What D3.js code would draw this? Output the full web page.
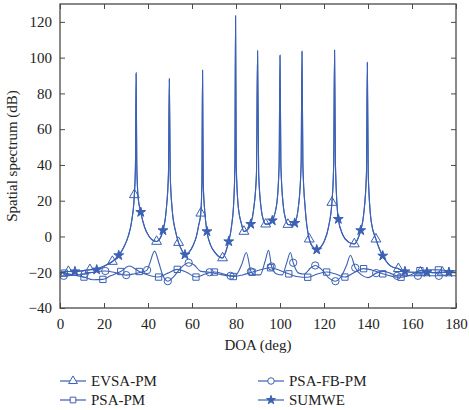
<!DOCTYPE html>
<html>
<head>
<meta charset="utf-8">
<script src="https://cdn.jsdelivr.net/npm/d3@7"></script>
<style>
body { margin: 0; background: #fff; }
text { font-family: "Liberation Serif", "Times New Roman", serif; fill: #222; }
</style>
</head>
<body>
<svg id="chart" width="469" height="410"></svg>
<script>
// axis ticks
var xTicks = [0, 20, 40, 60, 80, 100, 120, 140, 160, 180]
var yTicks = [-40, -20, 0, 20, 40, 60, 80, 100, 120]

// EVSA-PM: curve points and triangle markers [DOA, dB]
var evsaCurve = [[0,-20],[8,-19.5],[18,-17.5],[21,-16],[26.7,-10.6],[29,-6],[31,0],[32.5,8],[34.3,40],[34.6,91.6],[34.9,40],[35.5,22],[36.7,13.6],[38.5,5],[40.5,0],[42,-2],[46,0],[46.8,3.4],[48.3,15],[49.3,35],[49.7,88.3],[50.1,35],[51,15],[52.5,3],[55.5,-8],[56.8,-10.2],[58.5,-9],[60.5,-5],[62,0],[63,6],[64.5,30],[64.8,93.1],[65.1,30],[65.8,14],[66.8,2.8],[68.5,-5],[70.5,-9],[72.5,-11.5],[75.5,-8],[76.7,-2.8],[78,6],[79,20],[79.5,40],[79.8,123.5],[80.1,40],[81,17],[82.5,7],[85,3.5],[86.7,6.9],[88,15],[89.3,35],[89.8,103.9],[90.3,35],[91.5,15],[92.5,9],[95,7],[96.5,8.9],[98.5,18],[99.6,40],[100,101.5],[100.4,40],[101.5,17],[102.5,10],[105,6.5],[106.7,7.5],[108.5,18],[109.6,40],[110,103.7],[110.4,40],[111.5,15],[115,-6],[116.7,-7.4],[118.5,-6],[120,-3],[122,5],[124.4,40],[124.8,104.3],[125.2,40],[126.5,9.7],[128.5,1],[131,-3],[135.5,-1],[136.7,3.4],[138,12],[139.3,35],[139.7,97.4],[140.1,35],[141.5,8],[145.2,-7],[146.7,-10.8],[149,-15],[151,-17],[156.8,-19.6],[160,-20],[166.8,-20],[170,-20.2],[176.8,-20],[180,-20]]
var evsaMarks = [[3.8,-19.6],[13.6,-18.6],[23.8,-14],[33.8,23.3],[43.9,-2.8],[53.9,-3.4],[64,13],[73.9,-12],[83.6,2.8],[93.5,6.9],[103.6,6.7],[113.3,-1.5],[123.6,19],[133.8,-4.2],[143.6,-1.5],[153.8,-18],[163.8,-20],[173.8,-20]]

// SUMWE: curve points and star markers
var sumweCurve = [[0,-20],[3.8,-19.6],[10,-19.2],[13.6,-18.6],[21,-16],[23.8,-14],[29,-6],[31,0],[32.5,8],[33.8,23.3],[34.3,40],[34.6,91],[34.9,40],[35.5,22],[38.5,5],[40.5,0],[42,-2],[43.9,-2.8],[48.3,15],[49.3,35],[49.7,87.8],[50.1,35],[51,15],[52.5,3],[53.9,-3.4],[55.5,-8],[58.5,-9],[60.5,-5],[62,0],[63,6],[64,13],[64.5,30],[64.8,92.5],[65.1,30],[65.8,14],[68.5,-5],[70.5,-9],[72.5,-11.5],[73.9,-12],[75.5,-8],[78,6],[79,20],[79.5,40],[79.8,123],[80.1,40],[81,17],[82.5,7],[83.6,2.8],[85,3.5],[88,15],[89.3,35],[89.8,103.4],[90.3,35],[91.5,15],[92.5,9],[93.5,6.9],[95,7],[98.5,18],[99.6,40],[100,101],[100.4,40],[101.5,17],[102.5,10],[103.6,6.7],[105,6.5],[108.5,18],[109.6,40],[110,103.2],[110.4,40],[111.5,15],[113.3,-1.5],[115,-6],[118.5,-6],[120,-3],[122,5],[123.6,19],[124.4,40],[124.8,103.8],[125.2,40],[128.5,1],[131,-3],[133.8,-4.2],[135.5,-1],[138,12],[139.3,35],[139.7,97],[140.1,35],[141.5,8],[143.6,-1.5],[145.2,-7],[149,-15],[151,-17],[153.8,-18],[160,-20],[163.8,-20],[170,-20.2],[173.8,-20],[180,-20]]
var sumweMarks = [[6.8,-19.6],[16.7,-18.6],[26.7,-10.6],[36.7,13.6],[46.8,3.4],[56.8,-10.2],[66.8,2.8],[76.7,-2.8],[86.7,6.9],[96.5,8.9],[106.7,7.5],[116.7,-7.4],[126.5,9.7],[136.7,3.4],[146.7,-10.8],[156.8,-19.6],[166.8,-20],[176.8,-20]]

// PSA-FB-PM: curve points and circle markers
var fbCurve = [[0,-22.5],[5,-21.8],[15,-20],[25,-20.2],[34,-20.8],[37,-20],[40.8,-15],[43,-8.2],[45,-15],[46.5,-21],[52,-22],[55,-17.5],[61,-16],[64,-19.5],[72,-21],[80,-21.5],[82.5,-16],[84.7,-9],[88.5,-21.5],[91,-21.5],[93.2,-14],[94.8,-7.8],[98.5,-21],[101,-21.5],[103.1,-14.5],[104.7,-9],[108.5,-20.5],[111,-21],[114,-17.5],[119,-18.5],[122,-23],[128,-22],[130.3,-16],[132,-10.5],[137,-21.5],[140,-23],[147,-19.5],[150,-20.5],[158,-22],[168,-22],[176,-22],[180,-22]]
var fbMarks = [[1.7,-22],[11.2,-21],[20.6,-19.3],[30.1,-21.6],[39.6,-18.8],[49,-25],[58.5,-14.7],[68,-20],[77.5,-22],[86.8,-19.6],[96.2,-16.8],[106,-14.7],[116,-16.2],[125.2,-25],[134.2,-17.5],[143.7,-20.5],[153.2,-22],[162.7,-22],[172.2,-22]]

// PSA-PM: curve points and square markers
var psaCurve = [[0,-20.3],[6,-21.5],[15,-24.2],[23,-22],[31.5,-16.5],[40,-21.5],[49,-20.5],[57.5,-20],[66,-21],[74.5,-21],[83,-21.5],[91.5,-18.5],[100,-19],[108.3,-22.5],[117,-21],[125.3,-21],[134,-20],[142.5,-19],[151,-22.3],[159.3,-21.5],[168,-18.6],[176,-19],[180,-19.2]]
var psaMarks = [[2,-20.5],[10.9,-22.7],[19.5,-24],[27.6,-19.6],[36,-19.6],[44.8,-22.7],[53.3,-18.4],[61.8,-22.7],[70.2,-19.9],[78.8,-22.4],[87.3,-20],[95.7,-17.5],[104,-20.9],[112.6,-22.8],[121.2,-19.9],[129.5,-22.7],[138,-18],[146.7,-20.9],[155,-22.8],[163.6,-19.1],[172,-18.7]]

var blue = "#3b60b4"
var frame = "#4a4a4a"

var svg = d3.select("#chart")
var margin = {left: 60, right: 13, top: 4, bottom: 102}
var w = 469 - margin.left - margin.right
var h = 410 - margin.top - margin.bottom

var x = d3.scaleLinear().domain([0, 180]).range([0, w])
var y = d3.scaleLinear().domain([-40, 130]).range([h, 0])

var g = svg.append("g").attr("transform", "translate(" + margin.left + "," + margin.top + ")")

svg.append("defs").append("clipPath").attr("id", "clip")
    .append("rect").attr("width", w).attr("height", h)

// series table built from the arrays above
var series = [
    {name: "EVSA-PM", curve: evsaCurve, marks: evsaMarks, symbol: d3.symbolTriangle, size: 42, filled: false},
    {name: "PSA-PM", curve: psaCurve, marks: psaMarks, symbol: d3.symbolSquare, size: 40, filled: false},
    {name: "PSA-FB-PM", curve: fbCurve, marks: fbMarks, symbol: d3.symbolCircle, size: 42, filled: false},
    {name: "SUMWE", curve: sumweCurve, marks: sumweMarks, symbol: d3.symbolStar, size: 30, filled: true}
]

var line = d3.line()
    .x(function(d) { return x(d[0]) })
    .y(function(d) { return y(d[1]) })
    .curve(d3.curveMonotoneX)

var plot = g.append("g").attr("clip-path", "url(#clip)")

series.forEach(function(s) {
    // markers sit on the line, so merge them into the curve
    var pts = s.curve.concat(s.marks).sort(function(a, b) { return a[0] - b[0] })
    plot.append("path")
        .datum(pts)
        .attr("fill", "none")
        .attr("stroke", blue)
        .attr("stroke-width", 1.1)
        .attr("d", line)
})

series.forEach(function(s) {
    plot.selectAll(null)
        .data(s.marks)
        .enter().append("path")
        .attr("transform", function(d) { return "translate(" + x(d[0]) + "," + y(d[1]) + ")" })
        .attr("d", d3.symbol().type(s.symbol).size(s.size))
        .attr("fill", s.filled ? blue : "none")
        .attr("stroke", blue)
        .attr("stroke-width", 1)
})

// axes with inward ticks on all four sides
var xAxis = g.append("g").attr("transform", "translate(0," + h + ")")
    .call(d3.axisBottom(x).tickValues(xTicks).tickSizeInner(-5).tickSizeOuter(0).tickPadding(10))
var xTop = g.append("g")
    .call(d3.axisTop(x).tickValues(xTicks).tickSizeInner(-5).tickSizeOuter(0).tickFormat(""))
var yAxis = g.append("g")
    .call(d3.axisLeft(y).tickValues(yTicks).tickSizeInner(-5).tickSizeOuter(0).tickPadding(8))
var yRight = g.append("g").attr("transform", "translate(" + w + ",0)")
    .call(d3.axisRight(y).tickValues(yTicks).tickSizeInner(-5).tickSizeOuter(0).tickFormat(""))

;[xAxis, xTop, yAxis, yRight].forEach(function(a) {
    a.selectAll(".domain").remove()
    a.selectAll(".tick line").attr("stroke", frame)
    a.selectAll("text").style("font-size", "15px").attr("fill", "#222")
        .style("font-family", "'Liberation Serif', serif")
})

g.append("rect")
    .attr("width", w).attr("height", h)
    .attr("fill", "none")
    .attr("stroke", frame)
    .attr("stroke-width", 1.3)

// axis titles
svg.append("text")
    .attr("x", margin.left + w / 2)
    .attr("y", 350)
    .attr("text-anchor", "middle")
    .style("font-size", "15px")
    .text("DOA (deg)")

svg.append("text")
    .attr("transform", "translate(17," + (margin.top + h / 2) + ") rotate(-90)")
    .attr("text-anchor", "middle")
    .style("font-size", "15px")
    .text("Spatial spectrum (dB)")

// legend
var legendPos = [[60, 381], [60, 400], [258, 381], [258, 400]]
series.forEach(function(s, i) {
    var p = legendPos[i]
    var lg = svg.append("g").attr("transform", "translate(" + p[0] + "," + p[1] + ")")
    lg.append("line").attr("x1", 0).attr("x2", 26).attr("y1", 0).attr("y2", 0)
        .attr("stroke", blue).attr("stroke-width", 1.2)
    lg.append("path")
        .attr("transform", "translate(13,0)")
        .attr("d", d3.symbol().type(s.symbol).size(s.size * 0.8))
        .attr("fill", s.filled ? blue : "#fff")
        .attr("stroke", blue)
    lg.append("text")
        .attr("x", 31).attr("y", 5)
        .style("font-size", "15px")
        .text(s.name)
})
</script>
</body>
</html>
